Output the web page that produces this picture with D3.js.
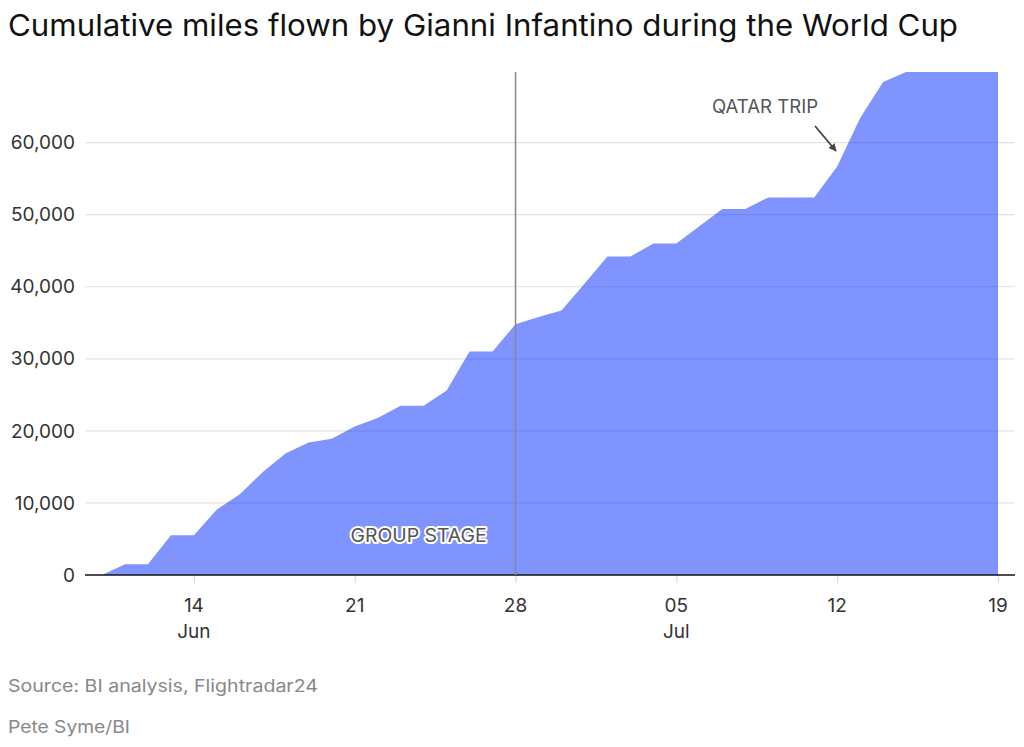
<!DOCTYPE html>
<html>
<head>
<meta charset="utf-8">
<script src="https://cdn.jsdelivr.net/npm/d3@7"></script>
<style>
  html, body { margin: 0; padding: 0; background: #fff; }
  svg { display: block; font-family: Inter, Roboto, "Noto Sans", sans-serif; }
</style>
</head>
<body>
<svg id="chart" width="1024" height="747"></svg>
<script>
// ---- data ----
const dates = [
  "2018-06-10","2018-06-11","2018-06-12","2018-06-13","2018-06-14","2018-06-15",
  "2018-06-16","2018-06-17","2018-06-18","2018-06-19","2018-06-20","2018-06-21",
  "2018-06-22","2018-06-23","2018-06-24","2018-06-25","2018-06-26","2018-06-27",
  "2018-06-28","2018-06-29","2018-06-30","2018-07-01","2018-07-02","2018-07-03",
  "2018-07-04","2018-07-05","2018-07-06","2018-07-07","2018-07-08","2018-07-09",
  "2018-07-10","2018-07-11","2018-07-12","2018-07-13","2018-07-14","2018-07-15",
  "2018-07-16","2018-07-17","2018-07-18","2018-07-19"
];
const miles = [
  0, 1500, 1500, 5500, 5500, 9100,
  11200, 14300, 16900, 18400, 18900, 20600,
  21800, 23500, 23500, 25600, 31000, 31000,
  34800, 35800, 36700, 40400, 44200, 44200,
  46000, 46000, 48400, 50800, 50800, 52400,
  52400, 52400, 56700, 63400, 68400, 69800,
  69800, 69800, 69800, 69800
];
const yTicks = [0, 10000, 20000, 30000, 40000, 50000, 60000];
const xTickDates = ["2018-06-14","2018-06-21","2018-06-28","2018-07-05","2018-07-12","2018-07-19"];
const title = "Cumulative miles flown by Gianni Infantino during the World Cup";
const source = "Source: BI analysis, Flightradar24";
const credit = "Pete Syme/BI";
const groupStageEnd = "2018-06-28";

// ---- setup ----
const parse = d3.utcParse("%Y-%m-%d");
const data = dates.map((d, i) => ({ date: parse(d), value: miles[i] }));

const svg = d3.select("#chart");
const plotLeft = 85, plotRight = 1015, plotTop = 72, plotBottom = 575;

const x = d3.scaleUtc()
  .domain([parse(dates[0]), parse(dates[dates.length - 1])])
  .range([102, 998]);
const y = d3.scaleLinear()
  .domain([0, d3.max(miles)])
  .range([plotBottom, plotTop]);

function fitText(sel, w) {
  const n = sel.node();
  const len = n.getComputedTextLength();
  if (len > 0) sel.attr("textLength", w).attr("lengthAdjust", "spacingAndGlyphs");
  return sel;
}

// title
fitText(svg.append("text")
  .attr("x", 8).attr("y", 36)
  .attr("font-size", 30).attr("fill", "#111")
  .text(title), 950);

// gridlines
svg.append("g")
  .selectAll("line")
  .data(yTicks.filter(d => d > 0))
  .join("line")
  .attr("x1", plotLeft).attr("x2", plotRight)
  .attr("y1", d => y(d)).attr("y2", d => y(d))
  .attr("stroke", "#e3e3e3").attr("stroke-width", 1.2);

// y labels
const fmt = d3.format(",");
svg.append("g")
  .selectAll("text")
  .data(yTicks)
  .join("text")
  .attr("x", 75).attr("y", d => y(d))
  .attr("dy", "0.35em")
  .attr("text-anchor", "end")
  .attr("font-size", 19).attr("fill", "#333")
  .text(d => fmt(d));

// area
const area = d3.area()
  .x(d => x(d.date))
  .y0(y(0))
  .y1(d => y(d.value));
svg.append("path")
  .datum(data)
  .attr("d", area)
  .attr("fill", "#0129ff")
  .attr("fill-opacity", 0.5);

// x axis
const xAxis = d3.axisBottom(x)
  .tickValues(xTickDates.map(parse))
  .tickSize(8)
  .tickFormat("");
const gx = svg.append("g")
  .attr("transform", `translate(0,${plotBottom})`)
  .call(xAxis);
gx.select(".domain").remove();
gx.selectAll(".tick line").attr("stroke", "#ddd").attr("stroke-width", 1.2);

const tickDates = xTickDates.map(parse);
svg.append("g")
  .selectAll("text")
  .data(tickDates)
  .join("text")
  .attr("x", d => x(d)).attr("y", 612)
  .attr("text-anchor", "middle")
  .attr("font-size", 19).attr("fill", "#333")
  .text(d => d3.utcFormat("%d")(d));
svg.append("g")
  .selectAll("text")
  .data(tickDates.filter((d, i) => i === 0 || d.getUTCMonth() !== tickDates[i - 1].getUTCMonth()))
  .join("text")
  .attr("x", d => x(d)).attr("y", 638)
  .attr("text-anchor", "middle")
  .attr("font-size", 19).attr("fill", "#333")
  .text(d => d3.utcFormat("%b")(d));

// baseline
svg.append("line")
  .attr("x1", plotLeft).attr("x2", plotRight)
  .attr("y1", y(0)).attr("y2", y(0))
  .attr("stroke", "#111").attr("stroke-width", 1.6);

// group stage line
const gsx = x(parse(groupStageEnd));
svg.append("line")
  .attr("x1", gsx).attr("x2", gsx)
  .attr("y1", plotTop).attr("y2", plotBottom)
  .attr("stroke", "#888").attr("stroke-width", 1.5);

// group stage label with halo
const gs = svg.append("g");
[true, false].forEach(halo => {
  const t = gs.append("text")
    .attr("x", gsx - 165).attr("y", y(0) - 33)
    .attr("font-size", 19)
    .attr("fill", halo ? "#fff" : "#555")
    .text("GROUP STAGE");
  fitText(t, 136);
  if (halo) t.attr("stroke", "#fff").attr("stroke-width", 4).attr("stroke-linejoin", "round");
});

// Qatar trip annotation
svg.append("defs").append("marker")
  .attr("id", "arrow")
  .attr("viewBox", "0 0 10 10")
  .attr("refX", 9).attr("refY", 5)
  .attr("markerWidth", 8).attr("markerHeight", 8)
  .attr("markerUnits", "userSpaceOnUse")
  .attr("orient", "auto")
  .append("path")
  .attr("d", "M0,0 L10,5 L0,10 Z")
  .attr("fill", "#444");
fitText(svg.append("text")
  .attr("x", 712).attr("y", 113)
  .attr("font-size", 18)
  .attr("fill", "#555")
  .text("QATAR TRIP"), 106);
svg.append("line")
  .attr("x1", 815).attr("y1", 126)
  .attr("x2", 836).attr("y2", 151)
  .attr("stroke", "#444").attr("stroke-width", 1.8)
  .attr("marker-end", "url(#arrow)");

// footer
fitText(svg.append("text")
  .attr("x", 8).attr("y", 692)
  .attr("font-size", 17).attr("fill", "#888")
  .text(source), 310);
fitText(svg.append("text")
  .attr("x", 8).attr("y", 733)
  .attr("font-size", 17).attr("fill", "#888")
  .text(credit), 122);
</script>
</body>
</html>
